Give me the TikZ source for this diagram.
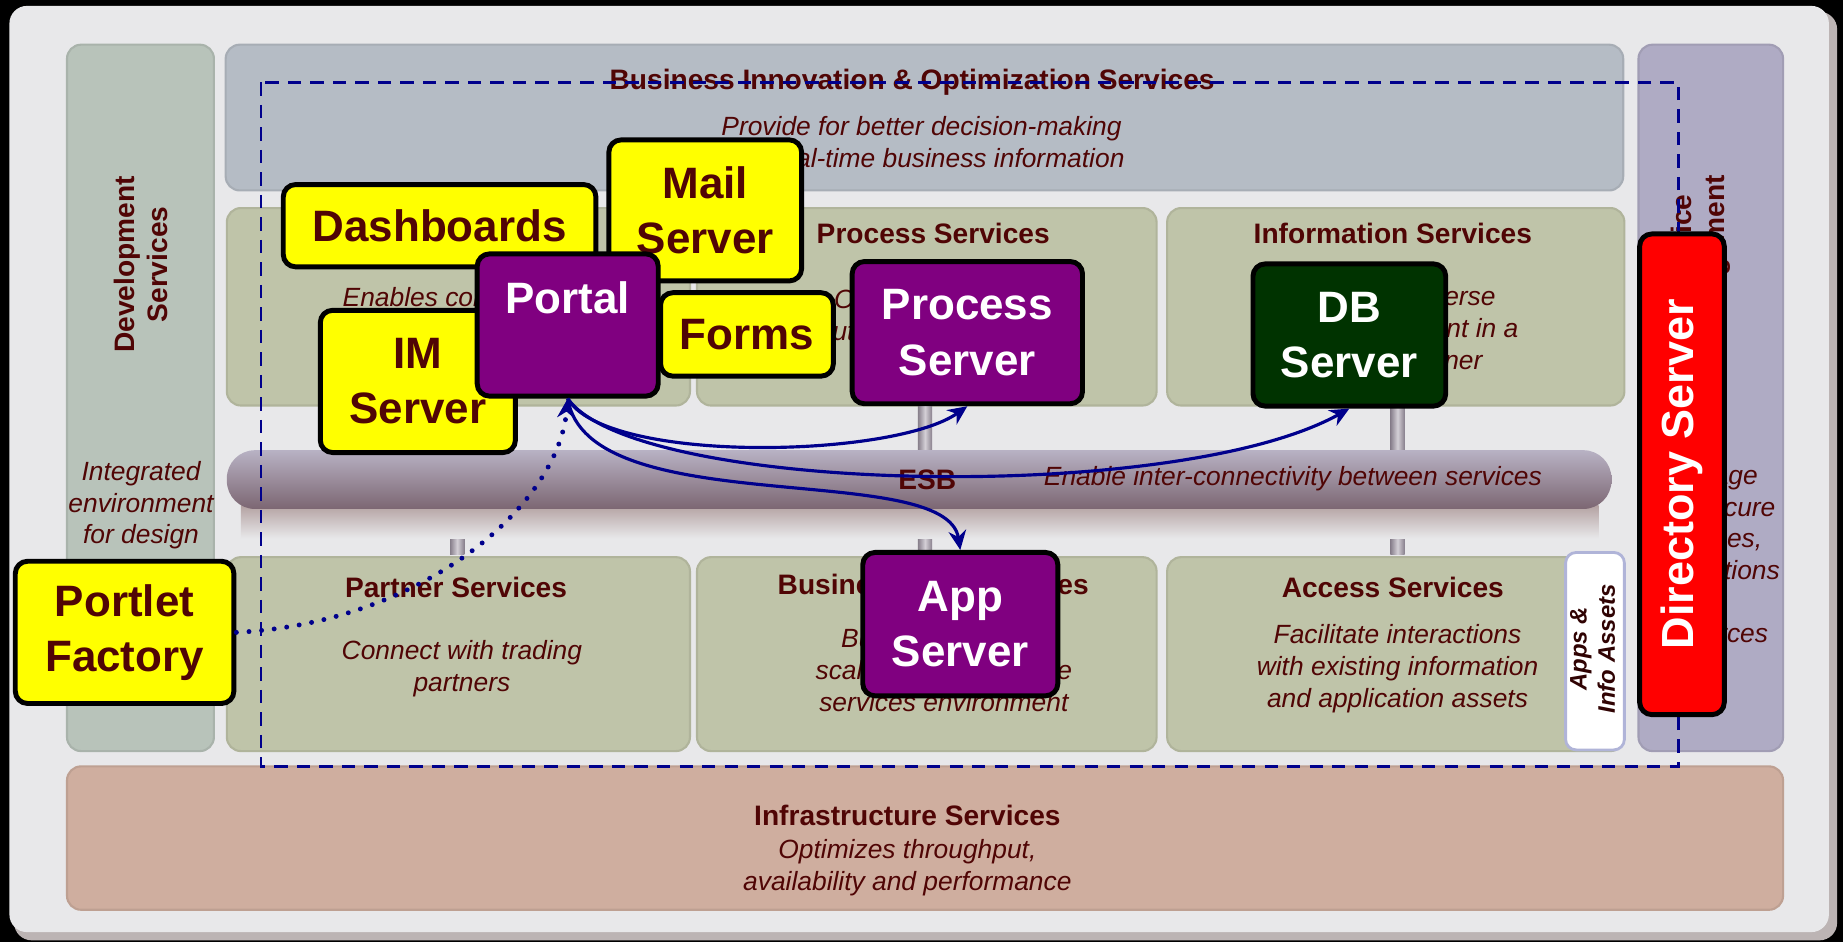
\documentclass[tikz,border=0pt]{standalone}
\usepackage{fontspec}
\setmainfont{Liberation Sans}
\usetikzlibrary{arrows, arrows.meta, positioning}

\definecolor{txtred}{RGB}{80,5,5}
\definecolor{framegray}{RGB}{232,232,234}
\definecolor{shadowgray}{RGB}{188,180,180}
\definecolor{devgreen}{RGB}{184,195,186}
\definecolor{biogray}{RGB}{181,188,197}
\definecolor{svcolive}{RGB}{191,196,169}
\definecolor{itsmlav}{RGB}{175,171,196}
\definecolor{infratan}{RGB}{207,174,159}
\definecolor{boxyellow}{RGB}{255,255,0}
\definecolor{boxpurple}{RGB}{128,0,128}
\definecolor{boxgreen}{RGB}{0,51,0}
\definecolor{boxred}{RGB}{255,0,0}
\definecolor{linknavy}{RGB}{0,0,140}
\definecolor{barmauve}{RGB}{160,150,165}
\definecolor{esbtop}{RGB}{184,178,196}
\definecolor{esbmid}{RGB}{198,194,206}
\definecolor{esbbot}{RGB}{124,102,114}
\definecolor{esbshadow}{RGB}{180,162,162}
\definecolor{tabedge}{RGB}{176,180,216}

\newcommand{\svchead}{\fontsize{8}{9.6}\selectfont\bfseries}
\newcommand{\svcdesc}{\fontsize{7.5}{9}\selectfont\itshape}
\newcommand{\boxfont}{\fontsize{12.5}{15.7}\selectfont\bfseries}
\def\px{0.011754cm}

\begin{document}
\begin{tikzpicture}[x=0.011754cm, y=-0.011754cm,
	panel/.style={fill=#1, draw=#1!92!black, line width=.6pt, rounded corners=4pt},
	head/.style={text=txtred, font=\svchead, align=center},
	desc/.style={text=txtred, font=\svcdesc, align=center},
	srvbox/.style={draw=black, line width=1.4pt, rounded corners=3.5pt, align=center, inner sep=0pt, font=\boxfont},
	yellowbox/.style={srvbox, fill=boxyellow, text=txtred},
	purplebox/.style={srvbox, fill=boxpurple, text=white},
	bar/.style={left color=barmauve!85!black, right color=barmauve!85!black, middle color=barmauve!45!white},
	link/.style={draw=linknavy, line width=.9pt, ->, >={Stealth[length=5.5pt, width=5pt]}}]
	\useasboundingbox (0,0) rectangle (1568,801);
	\fill[black] (0,0) rectangle (1568,801);
	\fill[shadowgray, rounded corners=5pt] (12,10) rectangle (1563,800);
	\fill[framegray, rounded corners=5pt] (8,5) rectangle (1556,793);

	% --- service panels ---
	\draw[panel=devgreen] (57,38) rectangle (182,639);
	\draw[panel=biogray] (192,38) rectangle (1381,162);
	\draw[panel=svcolive] (193,177) rectangle (587,345);
	\draw[panel=svcolive] (593,177) rectangle (984,345);
	\draw[panel=svcolive] (993,177) rectangle (1382,345);
	\draw[panel=svcolive] (193,474) rectangle (587,639);
	\draw[panel=svcolive] (593,474) rectangle (984,639);
	\draw[panel=svcolive] (993,474) rectangle (1382,639);
	\draw[panel=itsmlav] (1394,38) rectangle (1517,639);
	\draw[panel=infratan] (57,652) rectangle (1517,774);
	\draw[fill=white, draw=tabedge, line width=.8pt, rounded corners=3pt] (1332,470) rectangle (1382,638);

	\node[head, rotate=90] (devtitle) at (120,225) {Development\\Services};
	\node[desc] (devdesc) at (120,430) {Integrated\\environment\\for design};
	\node[head] (biotitle) at (776,70) {Business Innovation \& Optimization Services};
	\node[desc] (biodesc) at (784,121) {Provide for better decision-making\\with real-time business information};
	\node[head] (intertitle) at (389,200) {Interaction Services};
	\node[desc, align=left, anchor=north west] (interdesc) at (281,234) {Enables collaboration\\between people,\\processes \&\\information};
	\node[head] (proctitle) at (794,199) {Process Services};
	\node[desc] (procdesc) at (790,284) {Orchestrate and\\automate business\\processes};
	\node[head] (infotitle) at (1185,199) {Information Services};
	\node[desc] (infodesc) at (1187,279) {Manages diverse\\data and content in a\\unified manner};
	\node[head] (partnertitle) at (388,500) {Partner Services};
	\node[desc] (partnerdesc) at (393,569) {Connect with trading\\partners};
	\node[head] (bastitle) at (794,500) {Business App Services};
	\node[desc] (basdesc) at (803,570) {Build on a robust,\\scaleable, and secure\\services environment};
	\node[head] (accesstitle) at (1185,500) {Access Services};
	\node[desc] (accessdesc) at (1189,569) {Facilitate interactions\\with existing information\\and application assets};
	\node[rotate=90, align=center, text=txtred!60!black, font=\fontsize{6.8}{8}\selectfont\bfseries\itshape] (appstab) at (1355,552) {Apps \&\\Info Assets};
	\node[head, rotate=90] (itsmtitle) at (1447,222) {IT Service\\Management};
	\node[desc] (itsmdesc) at (1455,472) {Manage\\and secure\\services,\\applications\\\&\\resources};
	\node[head] (infratitle) at (772,694) {Infrastructure Services};
	\node[desc] (infradesc) at (772,738) {Optimizes throughput,\\availability and performance};

	% --- ESB ---
	\foreach \xbar in {787,1189}
		\shade[bar] (\xbar-6,345) rectangle (\xbar+6,385);
	\foreach \xbar in {389,787,1189}
		\shade[bar] (\xbar-6,433) rectangle (\xbar+6,472);
	\shade[top color=esbshadow, bottom color=framegray] (205,430) rectangle (1360,458);
	\shade[top color=esbtop, middle color=esbmid, bottom color=esbbot, rounded corners=8pt] (193,383) rectangle (1371,433);
	\node[head] (esbtitle) at (789,408) {ESB};
	\node[desc] (esbdesc) at (1100,407) {Enable inter-connectivity between services};

	\draw[linknavy, line width=.7pt, dash pattern=on 3.8pt off 2.6pt] (222,70) rectangle (1428,652);

	% --- servers ---
	\node[yellowbox, minimum width=266*\px, minimum height=70*\px] (dash) at (374,192) {Dashboards};
	\node[yellowbox, minimum width=164*\px, minimum height=120*\px] (mail) at (600,179) {Mail\\Server};
	\node[yellowbox, minimum width=166*\px, minimum height=121*\px] (imsrv) at (355.5,324.5) {IM\\Server};
	\node[yellowbox, minimum width=147*\px, minimum height=71*\px] (forms) at (635.5,284.5) {Forms};
	\node[purplebox, minimum width=154*\px, minimum height=121*\px] (portal) at (483,276.5) {Portal\\\mbox{}};
	\node[purplebox, minimum width=196*\px, minimum height=121*\px] (procsrv) at (823,283) {Process\\Server};
	\node[srvbox, fill=boxgreen, text=white, minimum width=164*\px, minimum height=121*\px] (dbsrv) at (1148,285) {DB\\Server};
	\node[purplebox, minimum width=166*\px, minimum height=122*\px] (appsrv) at (817,531) {App\\Server};
	\node[srvbox, fill=boxred, text=white, rotate=90, font=\fontsize{12.8}{15}\selectfont\bfseries, minimum width=409*\px, minimum height=72*\px] (dirsrv) at (1431,403.5) {Directory Server};
	\node[yellowbox, minimum width=186*\px, minimum height=121*\px] (portlet) at (106,538) {Portlet\\Factory};

	\draw[link] (portal.south) .. controls (515,395) and (760,390) .. (procsrv.south);
	\draw[link] (portal.south) .. controls (540,420) and (1000,430) .. (dbsrv.south);
	\draw[link] (portal.south) .. controls (500,445) and (805,390) .. (appsrv.north);
	\draw[link, line width=1.4pt, line cap=round, dash pattern=on 0pt off 3.6pt] (portlet.east) .. controls (360,530) and (475,430) .. (portal.south);
\end{tikzpicture}
\end{document}
